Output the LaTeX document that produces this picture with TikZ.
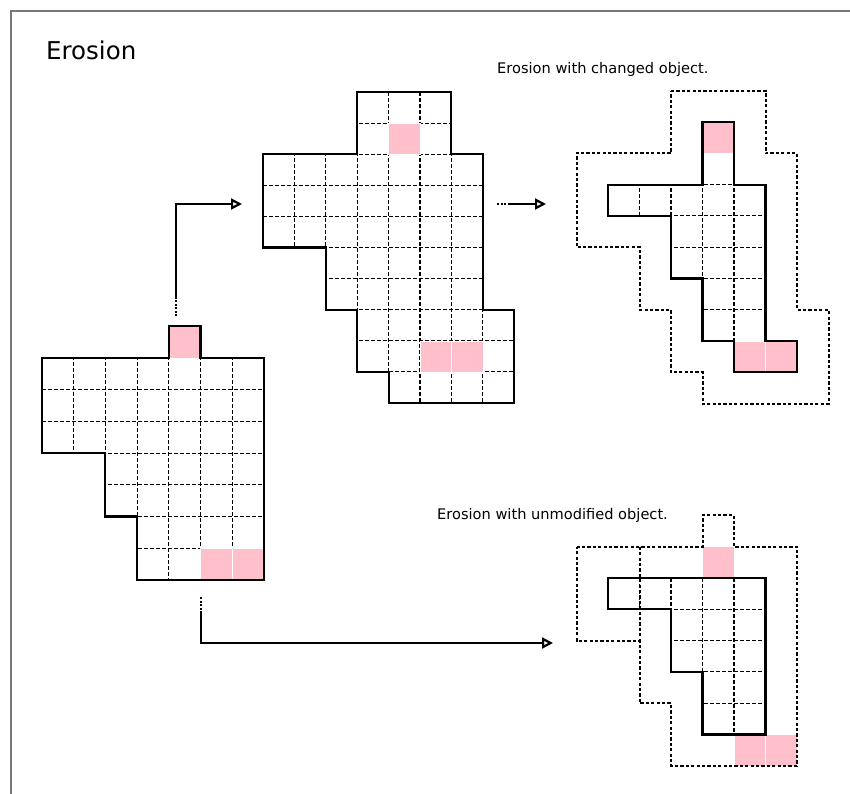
\documentclass[tikz,border=0pt]{standalone}
\usepackage{fontspec}
\setmainfont{DejaVu Sans}
\usetikzlibrary{arrows.meta}

\definecolor{cellpink}{RGB}{255,192,203}
\definecolor{framegray}{RGB}{120,120,120}

\tikzset{
  outline/.style={line width=2.1bp, line join=miter},
  inner/.style={line width=1.1bp, dash pattern=on 3.5bp off 2.5bp},
  hull/.style={line width=2bp, dash pattern=on 3.2bp off 2.2bp},
  pinkcell/.style={fill=cellpink, draw=white, line width=0.5bp},
  flow/.style={line width=2.4bp, line join=miter, -{Triangle[open,length=11bp,width=11bp,line width=2.2bp]}},
  flowtail/.style={line width=2.4bp, dash pattern=on 2bp off 1.5bp},
  caption/.style={inner sep=0pt, anchor=base west, font=\fontsize{14.6bp}{17bp}\selectfont},
}

\begin{document}
\begin{tikzpicture}[x=1bp,y=-1bp]
\useasboundingbox (0,0) rectangle (850,794);

% frame
\draw[framegray, line width=1.5bp] (850,11) -- (11,11) -- (11,794);

% titles
\node[inner sep=0pt, anchor=base west, font=\fontsize{24.5bp}{29bp}\selectfont] (title) at (46,60) {Erosion};
\node[caption] (lblchanged) at (497,74) {Erosion with changed object.};
\node[caption] (lblunmod) at (437,519) {Erosion with unmodified object.};

% ---------- original object ----------
\begin{scope}[shift={(42,358)}, x=31.7bp, y=-31.7bp]
  \coordinate (objA) at (3.5,3);
  \begin{scope}
    \clip (0,0) -- (4,0) -- (4,-1) -- (5,-1) -- (5,0) -- (7,0) -- (7,7) -- (3,7)
          -- (3,5) -- (2,5) -- (2,3) -- (0,3) -- cycle;
    \foreach \i in {1,...,6} \draw[inner] (\i,-1) -- (\i,7);
    \foreach \j in {1,...,6} \draw[inner] (0,\j) -- (7,\j);
  \end{scope}
  \filldraw[pinkcell] (4,-1) rectangle (5,0);
  \filldraw[pinkcell] (5,6) rectangle (6,7);
  \filldraw[pinkcell] (6,6) rectangle (7,7);
  \draw[outline] (0,0) -- (4,0) -- (4,-1) -- (5,-1) -- (5,0) -- (7,0) -- (7,7) -- (3,7)
        -- (3,5) -- (2,5) -- (2,3) -- (0,3) -- cycle;
\end{scope}

% ---------- changed object ----------
\begin{scope}[shift={(263,92)}, x=31.4bp, y=-31.1bp]
  \coordinate (objB) at (4,5);
  \begin{scope}
    \clip (3,0) -- (6,0) -- (6,2) -- (7,2) -- (7,7) -- (8,7) -- (8,10) -- (4,10)
          -- (4,9) -- (3,9) -- (3,7) -- (2,7) -- (2,5) -- (0,5) -- (0,2) -- (3,2) -- cycle;
    \foreach \i in {1,...,7} \draw[inner] (\i,0) -- (\i,10);
    \foreach \j in {1,...,9} \draw[inner] (0,\j) -- (8,\j);
  \end{scope}
  \filldraw[pinkcell] (4,1) rectangle (5,2);
  \filldraw[pinkcell] (5,8) rectangle (6,9);
  \filldraw[pinkcell] (6,8) rectangle (7,9);
  \draw[outline] (3,0) -- (6,0) -- (6,2) -- (7,2) -- (7,7) -- (8,7) -- (8,10) -- (4,10)
        -- (4,9) -- (3,9) -- (3,7) -- (2,7) -- (2,5) -- (0,5) -- (0,2) -- (3,2) -- cycle;
\end{scope}

% ---------- erosion of the changed object ----------
\begin{scope}[shift={(608,122)}, x=31.5bp, y=-31.3bp]
  \coordinate (objC) at (3,4);
  \begin{scope}
    \clip (3,0) -- (4,0) -- (4,2) -- (5,2) -- (5,7) -- (6,7) -- (6,8) -- (4,8)
          -- (4,7) -- (3,7) -- (3,5) -- (2,5) -- (2,3) -- (0,3) -- (0,2) -- (3,2) -- cycle;
    \foreach \i in {1,...,5} \draw[inner] (\i,0) -- (\i,8);
    \foreach \j in {1,...,7} \draw[inner] (0,\j) -- (6,\j);
  \end{scope}
  \filldraw[pinkcell] (3,0) rectangle (4,1);
  \filldraw[pinkcell] (4,7) rectangle (5,8);
  \filldraw[pinkcell] (5,7) rectangle (6,8);
  \draw[outline] (3,0) -- (4,0) -- (4,2) -- (5,2) -- (5,7) -- (6,7) -- (6,8) -- (4,8)
        -- (4,7) -- (3,7) -- (3,5) -- (2,5) -- (2,3) -- (0,3) -- (0,2) -- (3,2) -- cycle;
  % outline of the changed object
  \draw[hull] (2,-1) -- (5,-1) -- (5,1) -- (6,1) -- (6,6) -- (7,6) -- (7,9) -- (3,9)
        -- (3,8) -- (2,8) -- (2,6) -- (1,6) -- (1,4) -- (-1,4) -- (-1,1) -- (2,1) -- cycle;
\end{scope}

% ---------- erosion of the unmodified object ----------
\begin{scope}[shift={(608,578)}, x=31.5bp, y=-31.3bp]
  \coordinate (objD) at (3,2);
  \begin{scope}
    \clip (0,0) -- (5,0) -- (5,5) -- (3,5) -- (3,3) -- (2,3) -- (2,1) -- (0,1) -- cycle;
    \foreach \i in {1,...,4} \draw[inner] (\i,0) -- (\i,5);
    \foreach \j in {1,...,4} \draw[inner] (0,\j) -- (5,\j);
  \end{scope}
  \filldraw[pinkcell] (3,-1) rectangle (4,0);
  \filldraw[pinkcell] (4,5) rectangle (5,6);
  \filldraw[pinkcell] (5,5) rectangle (6,6);
  \draw[outline] (0,0) -- (5,0) -- (5,5) -- (3,5) -- (3,3) -- (2,3) -- (2,1) -- (0,1) -- cycle;
  % outline of the original object
  \draw[hull] (-1,-1) -- (3,-1) -- (3,-2) -- (4,-2) -- (4,-1) -- (6,-1) -- (6,6) -- (2,6)
        -- (2,4) -- (1,4) -- (1,2) -- (-1,2) -- cycle;
  \draw[hull] (1,-1) -- (1,2);
\end{scope}

% ---------- arrows ----------
\coordinate (a1s) at (176,316);
\coordinate (a1m) at (176,298);
\coordinate (a1e) at (242,204);
\draw[flowtail] (a1s) -- (a1m);
\draw[flow] (a1m) |- (a1e);

\coordinate (a2s) at (497,204);
\coordinate (a2m) at (508,204);
\coordinate (a2e) at (546,204);
\draw[flowtail] (a2s) -- (a2m);
\draw[flow] (a2m) -- (a2e);

\coordinate (a3s) at (201,597);
\coordinate (a3m) at (201,612);
\coordinate (a3e) at (553,643);
\draw[flowtail] (a3s) -- (a3m);
\draw[flow] (a3m) |- (a3e);
\end{tikzpicture}
\end{document}
